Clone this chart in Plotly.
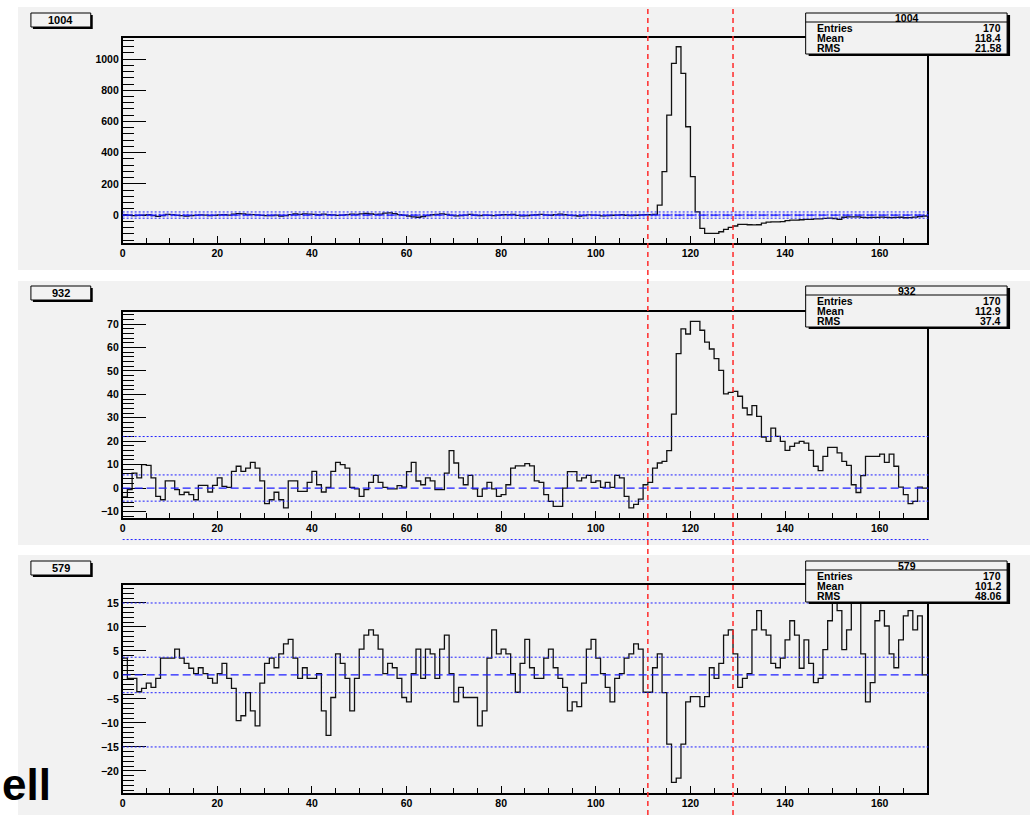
import plotly.graph_objects as go

W, H = 1036, 820

# ---------------- data ----------------
hist_names = ["1004", "932", "579"]
n_entries = ["170", "170", "170"]
mean_vals = ["118.4", "112.9", "101.2"]
rms_vals = ["21.58", "37.4", "48.06"]
x_edges = list(range(0, 171))
x_ticks = [0, 20, 40, 60, 80, 100, 120, 140, 160]

counts_1004 = [
    2, 0, -3, -2, 0, 2, -4, -8, -3, 5,
    3, -2, -4, -6, -3, -2, 1, 0, -3, -2,
    1, 2, 0, 6, 9, 8, 5, 3, 1, -2,
    -4, -3, 0, -6, -4, 3, 7, 5, 8, 6,
    4, 2, 6, 3, 1, -2, 0, 3, 6, 5,
    8, 10, 7, 4, 6, 12, 14, 9, 3, -2,
    -6, -12, -14, -9, -4, 2, 5, 8, 4, -2,
    -5, -3, 0, 4, -1, -3, 0, -2, -4, -1,
    2, 3, 5, -2, -5, -3, 0, 2, 4, 1,
    -1, 3, 6, 2, -2, -4, -6, -3, 1, 0,
    -2, -5, -3, -1, 0, 2, -1, -3, -1, 1,
    3, 2, 5, 64, 278, 641, 972, 1079, 908, 566,
    246, 21, -85, -117, -117, -117, -107, -92, -79, -70,
    -60, -60, -62, -63, -62, -52, -45, -43, -43, -42,
    -35, -33, -32, -30, -28, -27, -25, -24, -21, -20,
    -22, -28, -14, -12, -12, -11, -15, -16, -15, -15,
    -13, -15, -16, -15, -14, -17, -16, -13, -10, -6,
]

counts_932 = [
    -3.8, -0.7, 6.4, 4.3, 10, 9.7, 4.3, -3.6, -5, 3.1,
    3.1, -0.7, -2.8, -1.8, -2.8, -5, 1.1, 1.1, -1.7, 1.1,
    4.3, 0.7, 0.3, 7.1, 9.3, 7.1, 8.5, 11, 8.5, 3.1,
    -6.7, -5, -1.8, -5, -8.5, 3.1, 3.1, -1.4, -1.4, 2.4,
    7.1, 1.4, -1.7, 0.3, 7.1, 11, 10, 8.5, 0.3, -0.4,
    -3.6, -0.7, 2.4, 5.4, 2.4, 0.3, -0.4, -0.4, 1, 0.4,
    7, 11, 3, 1.4, 4.3, 3.1, -0.7, -0.7, 6.4, 16,
    10.7, 4.3, 1.4, 5.4, -0.4, -3.6, -0.4, 2.4, -0.4, -3.6,
    -2.8, 1.4, 8.5, 9.5, 9.5, 10.4, 9.5, 3.1, 2.4, -2.8,
    -5.7, -7.8, -7.8, 0, 7, 7, 3.1, 4.3, 5.4, 2.4,
    3.1, 0.3, 2.4, 0.3, 5.4, 4.3, -3.6, -8.5, -7, -4.7,
    1.4, 2.4, 8.5, 10.7, 11.4, 16, 31.6, 57.4, 68, 65.8,
    71.2, 71.2, 67.4, 62.3, 59.4, 55.3, 50.3, 40.2, 40.9, 41.3,
    39.2, 34.2, 31.3, 35.2, 30.6, 21.8, 19.9, 25.6, 22.1, 19.9,
    16.1, 17.8, 19.2, 19.9, 19.2, 16.1, 9.3, 7.4, 13.5, 17.4,
    17.4, 15, 11.4, 9.7, 1.4, -1.9, 5.3, 13.5, 13.5, 13.5,
    14.5, 11, 14.5, 9.3, 0.4, -2.8, -6.7, -5.7, 0.4, 0,
]

counts_579 = [
    3.5, -0.7, -0.7, -3.5, -2.8, -1.7, -2.6, -0.7, 3.5, 3.5,
    3.5, 5.4, 3.5, 2.4, 1.4, 0.3, 1.5, 0.3, -0.7, -1.7,
    0.3, 2.4, -0.7, -2.8, -9.5, -8.5, -3.7, -7.5, -10.6, -1.7,
    2.4, 3.5, 1.5, 4.4, 6.5, 7.4, 3.5, -0.7, 1.5, -0.7,
    -0.7, 0.3, -7.5, -12.6, -4.7, 4.4, 2.4, -0.7, -7.5, -0.7,
    5.4, 8.3, 9.4, 8.3, 5.4, 0.3, 2.4, 1.5, -0.7, -4.7,
    -5.6, 0.3, 5.4, -0.7, 5.4, 4.4, -0.7, 5.4, 8.3, 0.3,
    -5.6, -2.6, -4.7, -4.7, -4.7, -10.6, -7.5, 3.5, 9.4, 4.4,
    5.4, 4.4, 0.3, -3.6, 2.4, 7.4, 1.5, -0.7, -0.7, 3.5,
    5.4, 1.5, -0.7, -2.6, -7.5, -5.6, -6.6, -1.7, 5.4, 7.4,
    3.5, 0.3, -2.6, -5.6, -0.7, 0.3, 3.5, 4.4, 6.5, 5.4,
    -3.6, -3.6, 1.5, 4.4, -3.7, -14.4, -22.4, -21.5, -14.4, -5.6,
    -4.5, -4.5, -6.6, -4.5, 1.5, -0.7, 2.4, 8.3, 9.4, 4.4,
    -2.6, -0.7, 0.3, 9.4, 13.4, 9.4, 8.3, 2.4, 1.5, 3.5,
    7.3, 11.3, 8.3, 1.4, 7.3, 2.4, -1.6, -0.7, 5.3, 11.3,
    17, 13.4, 5.3, 9.4, 16.5, 16, 4.4, -5.6, -1.6, 11.3,
    13.4, 10.2, 4.4, 1.5, 7.3, 12.3, 13.4, 9.4, 12.3, 0,
]

y_ranges = [[-179, 1135], [-12.8, 75.2], [-24.6, 18.75]]
y_dticks = [200, 10, 5]
y_minor = [40, 2, 1]
band_inner = [5, 5.6, 3.7]
band_outer = [20, 22, 15]
window_edges = [111, 129]

all_counts = [counts_1004, counts_932, counts_579]

# ---------------- layout geometry (pixels) ----------------
FX0, FX1 = 120, 926.7          # frame left / right
frames = [(38, 243), (312, 518), (585, 793)]   # frame top / bottom
pads = [(15, 7, 1030, 270), (15, 281, 1030, 545), (15, 555, 1030, 815)]
box_tops = [13, 286, 561]

BG = "#f2f2f2"
LBL_FONT = dict(family="Liberation Sans", size=10.5, color="black", weight="bold")


def px(p):
    return p / W


def py(p):
    return 1 - p / H


def val_to_paper_y(i, v):
    lo, hi = y_ranges[i]
    top, bot = frames[i]
    return py(bot) + (v - lo) / (hi - lo) * (py(top) - py(bot))


def val_to_paper_x(v):
    return px(FX0) + v / 170.0 * (px(FX1) - px(FX0))


fig = go.Figure()
shapes = []
annotations = []
layout = {}

# pads (gray backgrounds)
for (x0, y0, x1, y1) in pads:
    shapes.append(dict(type="rect", xref="paper", yref="paper", x0=px(x0), x1=px(x1),
                       y0=py(y1), y1=py(y0), fillcolor=BG, line=dict(width=0), layer="below"))

for i, counts in enumerate(all_counts):
    ax = "" if i == 0 else str(i + 1)
    xa, ya = "x" + ax, "y" + ax
    fig.add_trace(go.Scatter(
        x=x_edges, y=counts + [counts[-1]], mode="lines",
        line=dict(shape="hv", color="#111111", width=1.3),
        xaxis=xa, yaxis=ya, showlegend=False, hoverinfo="skip"))
    top, bot = frames[i]
    layout["xaxis" + ax] = dict(
        domain=[px(FX0), px(FX1)], range=[0, 170], anchor=ya,
        tickvals=x_ticks, ticks="inside", ticklen=7, tickcolor="black", tickwidth=1,
        minor=dict(ticks="inside", ticklen=5, dtick=5, tick0=0, tickcolor="black"),
        showline=True, linecolor="black", linewidth=1.5, mirror=True,
        showgrid=False, zeroline=False, tickfont=LBL_FONT, fixedrange=True)
    layout["yaxis" + ax] = dict(
        domain=[py(bot), py(top)], range=y_ranges[i], anchor=xa,
        dtick=y_dticks[i], tick0=0, ticks="inside", ticklen=24, tickcolor="black", tickwidth=1,
        minor=dict(ticks="inside", ticklen=12, dtick=y_minor[i], tick0=0, tickcolor="black"),
        showline=True, linecolor="black", linewidth=1.5, mirror=True,
        showgrid=False, zeroline=False, tickfont=LBL_FONT, fixedrange=True)

    # blue reference lines
    for v, dash, w in [(0, "8px,4px", 1.3),
                       (band_inner[i], "2px,2px", 1), (-band_inner[i], "2px,2px", 1),
                       (band_outer[i], "2px,2px", 1), (-band_outer[i], "2px,2px", 1)]:
        yy = val_to_paper_y(i, v)
        shapes.append(dict(type="line", xref="paper", yref="paper",
                           x0=px(FX0), x1=px(FX1) + 1.3 / W, y0=yy, y1=yy,
                           line=dict(color="#1f1fff", width=w, dash=dash), layer="above"))

    # title box (top-left)
    T = box_tops[i]
    shapes.append(dict(type="rect", xref="paper", yref="paper", x0=px(30), x1=px(90),
                       y0=py(T + 16), y1=py(T + 2), fillcolor="black", line=dict(width=0)))
    shapes.append(dict(type="rect", xref="paper", yref="paper", x0=px(28), x1=px(88),
                       y0=py(T + 14), y1=py(T), fillcolor=BG, line=dict(color="black", width=1)))
    annotations.append(dict(text="<b>%s</b>" % hist_names[i], xref="paper", yref="paper",
                            x=px(58), y=py(T + 7), xanchor="center", yanchor="middle",
                            showarrow=False, font=dict(family="Liberation Sans", size=11, color="black")))

    # stats box (top-right)
    shapes.append(dict(type="rect", xref="paper", yref="paper", x0=px(808), x1=px(1010),
                       y0=py(T + 43), y1=py(T + 2), fillcolor="black", line=dict(width=0), layer="above"))
    shapes.append(dict(type="rect", xref="paper", yref="paper", x0=px(805), x1=px(1007),
                       y0=py(T + 41), y1=py(T), fillcolor=BG, line=dict(color="black", width=1), layer="above"))
    shapes.append(dict(type="line", xref="paper", yref="paper", x0=px(805), x1=px(1007),
                       y0=py(T + 9), y1=py(T + 9), line=dict(color="black", width=1), layer="above"))
    sfont = dict(family="Liberation Sans", size=10.5, color="black")
    annotations.append(dict(text="<b>%s</b>" % hist_names[i], xref="paper", yref="paper",
                            x=px(907), y=py(T + 4.5), xanchor="center", yanchor="middle",
                            showarrow=False, font=sfont))
    for k, (lab, val) in enumerate([("Entries", n_entries[i]), ("Mean", mean_vals[i]), ("RMS", rms_vals[i])]):
        yy = py(T + 15 + k * 10)
        annotations.append(dict(text="<b>%s</b>" % lab, xref="paper", yref="paper", x=px(814), y=yy,
                                xanchor="left", yanchor="middle", showarrow=False, font=sfont))
        annotations.append(dict(text="<b>%s</b>" % val, xref="paper", yref="paper", x=px(1003), y=yy,
                                xanchor="right", yanchor="middle", showarrow=False, font=sfont))

# red dashed window lines across all pads
for xv in window_edges:
    xx = val_to_paper_x(xv)
    shapes.append(dict(type="line", xref="paper", yref="paper", x0=xx, x1=xx,
                       y0=py(815), y1=py(8), line=dict(color="#ff2a2a", width=1.5, dash="5px,4px"),
                       layer="above"))

# stray slide text at bottom-left
annotations.append(dict(text="<b>ell</b>", xref="paper", yref="paper", x=px(-3), y=py(784),
                        xanchor="left", yanchor="middle", showarrow=False,
                        font=dict(family="Liberation Sans", size=44, color="black")))

fig.update_layout(
    width=W, height=H, margin=dict(l=0, r=0, t=0, b=0),
    paper_bgcolor="white", plot_bgcolor=BG,
    shapes=shapes, annotations=annotations, showlegend=False,
    **layout)

fig.write_html("out.html", config={"displayModeBar": False},
               post_script="document.body.style.margin='0';")
